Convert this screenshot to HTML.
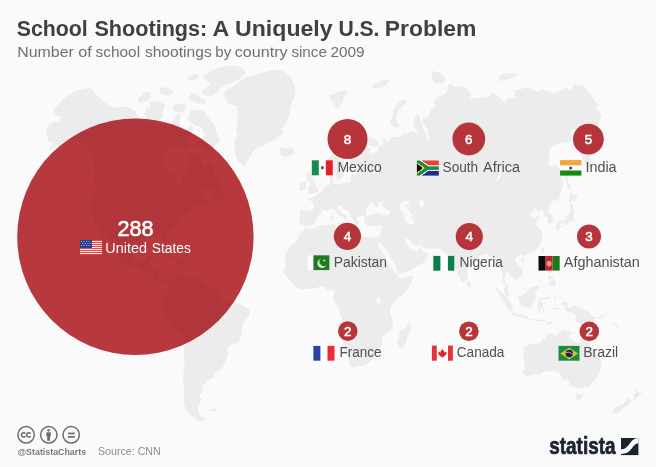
<!DOCTYPE html>
<html><head><meta charset="utf-8"><title>School Shootings: A Uniquely U.S. Problem</title>
<style>
html,body{margin:0;padding:0;background:#fafafa;}
body{width:656px;height:467px;overflow:hidden;font-family:"Liberation Sans",sans-serif;}
svg{display:block;will-change:transform;opacity:.999}
text{font-family:"Liberation Sans",sans-serif;}
.lbl{font-size:14px;fill:#505050}
.num{font-size:13.4px;font-weight:normal;fill:#fff;stroke:#fff;stroke-width:.55px;text-anchor:middle}
</style></head>
<body>
<svg width="656" height="467" viewBox="0 0 656 467">
<rect width="656" height="467" fill="#fafafa"/>
<!--MAP-->
<defs><filter id="soft" x="-2%" y="-2%" width="104%" height="104%"><feGaussianBlur stdDeviation=".45"/></filter></defs>
<g id="map" fill="#ececec" filter="url(#soft)"><path id="land" d="M53.8 109.0L66.5 96.2L78.7 89.7L90.2 87.8L96.6 95.1L101.6 99.5L106.7 103.7L114.7 107.8L127.8 106.5L135.3 111.2L141.5 121.5L152.2 124.0L161.0 126.8L169.9 125.7L176.3 115.7L180.9 113.0L179.3 123.2L180.5 127.8L183.5 132.4L189.7 125.2L193.7 127.2L191.2 135.8L182.8 138.3L178.4 145.2L173.4 145.1L166.2 150.6L161.2 157.0L162.0 162.1L165.5 167.5L172.4 173.6L177.3 175.0L175.6 181.3L177.9 185.8L180.2 184.0L182.0 176.9L187.0 171.4L188.8 165.3L188.5 160.5L191.9 152.4L198.2 153.9L202.6 158.8L201.7 165.1L203.6 167.4L209.0 163.3L211.0 161.9L213.1 170.7L213.7 175.2L217.9 179.8L220.8 184.2L219.8 187.6L215.2 189.2L212.1 191.2L205.2 190.5L200.8 190.5L195.5 194.7L191.1 198.9L196.5 194.2L202.9 193.3L203.8 195.2L201.1 197.6L202.3 201.0L207.5 201.8L210.5 200.2L208.1 203.6L202.4 205.3L198.4 207.6L198.9 204.9L202.0 202.8L197.3 203.8L193.3 206.1L190.3 207.7L190.5 211.4L187.6 212.2L182.8 214.0L181.9 216.6L179.0 220.0L177.7 222.3L177.0 226.5L173.9 228.6L170.8 230.6L166.5 234.5L165.5 237.8L166.7 243.3L166.4 247.6L164.4 248.3L162.2 243.3L162.5 239.5L160.5 237.7L157.6 238.1L154.1 236.9L150.7 237.0L150.0 239.2L147.2 238.9L142.1 237.9L139.7 238.9L135.2 241.9L134.3 247.0L132.6 253.5L133.3 257.7L135.3 260.9L137.9 262.6L142.7 261.8L145.4 260.0L146.4 256.8L150.8 255.9L153.0 256.5L151.1 261.1L149.9 267.2L153.6 267.6L157.4 267.7L158.8 269.7L157.8 274.3L157.4 277.2L159.6 280.2L162.4 281.6L165.3 280.2L169.0 282.0L168.0 284.7L164.6 282.2L163.2 284.5L160.4 282.7L157.6 282.1L154.8 279.6L153.4 277.2L150.4 273.2L146.7 272.2L143.0 271.2L139.4 267.5L136.6 267.1L132.8 267.3L128.2 265.6L123.7 262.8L120.1 260.7L117.4 257.5L118.3 253.2L115.8 249.2L112.4 245.8L110.2 241.9L107.3 238.4L106.8 233.7L103.9 231.9L103.6 235.9L105.7 240.6L107.8 245.2L109.1 249.3L110.7 251.7L109.3 250.8L106.7 246.3L103.6 241.7L102.4 237.5L101.1 233.9L99.8 229.8L97.9 226.0L94.3 224.3L93.1 219.2L92.5 216.0L91.2 211.4L90.9 208.7L92.2 204.6L92.4 201.9L96.0 192.6L96.6 186.4L99.5 187.3L100.6 185.0L98.6 181.6L94.3 177.9L95.1 173.0L93.6 165.9L93.8 162.4L92.4 154.8L91.1 149.5L87.8 148.9L85.8 144.5L82.8 142.1L78.6 141.2L76.9 137.4L71.6 140.5L71.6 135.3L64.8 141.1L59.8 145.5L55.2 147.5L50.2 150.1L48.0 149.7L52.2 144.7L54.8 141.9L51.2 142.3L47.1 140.1L49.1 135.6L45.8 134.8L46.3 128.8L50.5 123.2L55.2 121.5L59.2 121.2L62.1 116.4L58.7 115.9L54.5 113.6L53.8 109.0Z M224.4 91.5L234.3 85.2L246.0 77.3L252.9 75.6L259.7 73.6L264.8 72.1L269.9 70.6L276.1 70.1L282.1 69.6L286.0 73.2L290.2 76.7L294.5 84.5L295.7 93.0L292.0 102.7L289.8 109.3L289.6 115.5L286.1 121.2L284.6 126.6L281.5 128.4L283.5 133.2L279.1 136.0L274.7 140.1L269.2 141.6L263.9 145.8L258.1 147.8L253.7 150.2L251.1 155.6L247.3 161.1L245.2 165.6L242.1 164.7L238.5 162.0L236.5 157.1L234.9 152.0L234.8 145.8L234.3 139.7L237.7 134.4L235.8 130.3L237.5 124.4L237.7 118.4L237.7 111.0L236.3 105.4L228.3 103.9L225.3 99.5L224.3 95.7L224.4 91.5Z M203.8 111.2L206.9 115.3L210.5 120.4L214.6 124.7L215.5 130.6L218.0 136.4L220.4 140.6L216.1 144.8L211.3 150.8L207.8 152.3L204.2 151.5L201.6 147.3L194.6 145.4L195.7 142.1L201.6 140.5L204.7 133.8L200.7 126.7L195.3 125.4L190.6 122.5L187.0 118.8L190.7 111.2L198.2 109.5L203.8 111.2Z M149.1 101.5L155.7 101.3L162.2 103.2L165.2 105.6L162.1 112.3L163.5 117.6L159.1 120.1L153.2 119.1L146.4 118.2L144.0 114.8L145.5 109.7L150.5 107.1L149.1 101.5Z M143.5 91.9L148.9 91.9L151.7 96.0L147.2 101.2L142.0 103.6L138.4 102.5L137.6 98.7L142.7 94.4Z M214.0 69.4L222.0 66.7L232.2 65.2L236.7 66.2L241.1 67.1L246.0 72.3L242.2 77.5L234.5 81.4L226.6 84.9L220.7 87.7L216.1 92.5L210.7 96.5L203.1 94.6L201.2 92.1L207.2 86.6L210.8 83.9L208.2 80.9L203.9 79.6L203.5 75.4L210.2 71.4L214.0 69.4Z M191.6 92.5L196.1 94.2L200.9 98.4L206.2 100.8L205.1 104.1L200.2 104.1L191.8 101.3L188.2 97.9Z M161.2 87.3L168.0 87.8L173.5 90.9L171.3 95.0L166.5 95.3L161.4 94.1L159.2 89.9Z M174.7 103.1L180.1 103.7L185.1 105.0L186.4 108.3L182.6 111.7L179.3 111.7L176.5 112.2L173.6 110.3L172.7 106.4Z M190.3 75.7L196.4 74.1L199.5 76.2L194.5 80.8L187.9 80.6L187.8 77.5Z M181.0 140.5L185.2 138.9L188.5 143.2L187.9 146.9L183.2 148.1L179.7 146.0Z M212.2 197.7L215.3 193.2L218.4 188.1L220.6 188.2L219.4 192.1L222.8 193.6L223.7 197.5L222.9 200.8L220.3 199.9L217.7 200.0L215.3 198.1L212.2 197.7Z M156.8 255.1L160.6 252.9L165.3 252.7L171.6 255.7L176.4 258.9L170.3 259.4L169.5 257.8L165.9 255.7L162.3 254.3L159.5 254.5Z M176.1 259.7L180.7 259.5L184.4 259.8L187.3 262.2L183.3 263.0L180.9 263.8L175.9 262.5Z M168.6 262.3L172.3 262.9L171.3 263.7L168.7 263.3Z M169.0 282.0L171.9 280.2L172.9 277.9L175.8 276.9L179.1 275.7L180.7 274.6L180.4 277.3L183.4 276.3L186.6 278.1L190.9 278.1L194.7 278.7L198.5 278.1L200.4 279.7L202.2 282.2L205.0 285.1L207.8 287.0L211.6 287.2L215.4 288.0L218.2 290.1L220.0 294.7L221.0 297.5L220.0 299.5L223.8 300.4L226.7 300.0L231.4 303.3L236.2 303.8L240.0 304.0L243.8 306.1L246.7 308.0L249.2 309.0L249.8 312.8L249.1 316.6L245.9 319.5L243.2 323.4L242.4 327.3L242.2 332.6L240.5 337.6L239.2 341.2L236.5 343.3L232.8 343.9L229.2 345.8L227.0 349.1L228.3 353.6L226.8 358.5L224.5 363.5L222.2 367.9L219.4 370.7L216.2 371.6L214.7 373.9L214.3 377.1L210.5 379.6L206.5 380.7L205.6 383.8L201.6 384.4L203.5 387.5L201.8 390.0L201.8 393.5L198.7 396.1L201.6 399.1L199.6 403.4L197.8 407.5L198.6 412.4L199.5 414.3L204.4 418.8L205.8 419.5L202.4 421.2L197.9 420.7L193.7 417.6L188.2 413.2L184.9 407.0L183.5 400.4L183.9 393.9L184.7 388.8L183.3 384.0L183.0 379.2L183.2 374.5L184.3 369.8L184.5 364.2L183.8 358.7L184.1 353.3L184.4 348.0L184.3 339.7L183.7 334.4L180.3 331.6L176.3 329.6L171.9 325.6L169.8 321.7L167.2 316.8L164.5 311.9L161.8 309.0L161.6 306.7L164.0 304.8L162.3 302.7L163.0 299.5L163.9 297.0L166.2 295.6L167.8 293.5L169.1 290.9L169.0 287.0L169.0 282.0Z M195.4 413.8L198.8 413.2L199.7 415.7L205.8 418.6L203.9 420.2L199.7 420.9L194.7 418.4L195.9 416.0Z M211.0 408.8L216.2 408.5L216.6 410.9L211.5 411.2Z M305.3 227.5L308.7 228.8L312.4 229.0L316.0 227.5L318.7 226.0L323.3 225.1L328.7 224.9L333.8 224.2L336.0 225.3L335.1 228.1L336.1 230.9L334.3 232.0L337.1 233.0L339.8 233.7L344.1 235.1L347.3 237.6L351.0 239.1L352.8 237.6L352.7 234.2L356.3 233.6L359.2 235.0L362.3 236.3L366.6 237.1L370.3 237.7L373.0 236.4L375.5 237.0L379.0 236.7L380.5 240.5L378.6 243.6L378.1 244.1L376.2 239.7L376.5 242.2L378.6 246.1L380.8 249.8L382.5 252.8L384.7 255.8L385.8 258.4L386.1 262.2L388.5 264.8L390.2 268.7L392.5 270.1L395.4 272.6L397.7 274.5L397.4 276.3L400.3 278.4L404.1 277.8L407.8 277.0L412.9 275.7L412.6 278.4L411.4 282.2L409.0 287.1L406.2 290.9L403.4 293.9L399.6 296.6L396.8 299.8L394.5 302.3L392.4 304.2L390.5 308.0L389.7 310.9L391.0 312.8L390.5 315.7L392.7 318.6L392.8 323.4L392.8 327.3L390.4 330.7L386.6 332.6L384.6 334.8L381.7 337.2L382.1 340.8L382.3 344.8L380.3 346.8L377.2 348.8L376.8 352.3L375.2 355.4L372.2 359.6L368.3 363.3L364.5 365.4L360.8 366.1L356.2 366.0L352.5 367.5L349.8 366.4L349.4 363.2L349.5 360.4L347.4 356.2L346.0 353.8L343.9 350.1L343.1 345.0L343.0 341.0L340.8 337.0L338.6 333.1L338.2 329.2L339.6 325.3L341.7 322.0L342.1 318.5L340.7 314.7L339.2 309.9L338.4 307.1L336.0 304.2L333.5 301.4L333.1 297.5L334.2 294.3L334.6 291.8L332.7 289.9L329.3 290.1L326.4 289.8L324.5 286.7L320.7 286.5L317.9 287.5L314.1 288.6L310.3 289.0L306.5 288.8L301.8 290.1L298.9 288.6L295.5 286.1L292.3 283.6L290.8 281.0L288.0 277.9L285.7 276.0L284.2 273.6L283.0 270.3L284.9 267.8L285.3 264.9L285.8 261.0L284.1 258.0L285.7 255.0L287.1 251.0L289.0 247.6L291.9 244.5L295.3 242.2L297.5 240.2L298.0 237.1L299.9 233.5L303.2 231.4L305.3 227.5Z M409.3 321.7L410.9 325.4L410.9 329.0L409.3 331.7L408.1 336.3L406.3 341.3L404.6 346.4L402.6 348.0L400.2 348.6L398.0 347.0L397.2 342.3L398.1 339.2L399.4 336.3L399.0 332.3L400.5 329.7L403.4 328.7L406.3 326.4L407.7 323.9L409.3 321.7Z M299.7 224.9L298.9 220.9L300.2 217.1L300.3 213.7L299.7 211.0L302.7 209.8L308.0 210.5L312.8 210.6L313.9 207.3L313.9 204.5L311.6 201.3L308.0 199.6L308.2 198.2L311.7 197.9L313.2 197.9L313.2 195.7L316.0 196.0L318.8 194.0L320.3 192.0L322.8 189.9L324.2 187.1L327.0 185.7L330.0 184.9L330.6 182.3L329.6 177.7L331.7 175.7L333.3 174.3L333.2 178.2L332.4 180.9L334.2 183.8L337.1 183.5L340.0 184.3L343.8 182.9L347.1 182.3L349.7 182.7L351.2 180.0L350.8 175.9L352.4 174.2L355.8 174.9L356.1 171.8L354.4 169.5L357.6 168.2L361.7 168.4L364.4 166.8L360.5 165.4L356.6 166.5L353.0 167.2L350.4 164.9L350.2 159.7L351.5 156.6L354.7 152.2L355.2 150.2L352.3 149.0L350.0 149.8L349.3 153.4L346.8 156.7L343.9 160.6L343.8 165.1L346.5 167.4L345.5 170.3L343.6 173.8L343.0 177.5L340.2 178.9L339.8 180.5L337.6 180.6L337.0 178.4L335.5 174.8L334.3 171.1L333.1 169.1L331.6 171.2L329.2 173.2L326.7 172.9L325.0 170.7L324.2 166.3L324.0 162.4L325.9 160.0L328.6 157.5L331.7 155.5L333.9 152.3L335.7 148.2L337.9 143.7L339.2 140.9L342.0 137.6L344.6 134.5L348.2 133.2L350.8 131.1L353.6 129.8L357.4 130.8L361.3 132.4L360.2 134.8L364.9 135.6L369.6 136.7L374.6 139.3L378.3 142.2L378.9 145.0L375.3 147.0L369.6 145.3L366.5 145.2L369.6 148.4L370.4 152.4L374.2 154.1L375.3 151.4L378.5 151.5L377.8 147.5L380.5 145.2L383.6 145.3L383.0 141.1L382.0 137.9L385.2 138.4L387.0 142.9L388.8 140.2L392.6 136.9L396.9 136.8L398.1 137.0L401.4 135.1L404.2 134.0L406.1 131.0L406.7 134.5L411.3 131.5L415.5 132.5L419.1 133.6L416.1 129.6L413.3 124.7L413.5 118.2L416.1 115.3L419.0 115.7L421.4 122.5L424.0 130.4L426.8 136.0L426.1 140.3L429.6 138.6L427.6 133.9L427.8 129.8L423.6 124.3L422.3 117.1L425.1 118.3L428.0 116.0L430.3 114.3L428.9 109.9L432.6 108.1L436.4 106.4L433.4 102.3L435.5 99.3L439.5 95.7L444.8 94.3L447.2 90.8L448.7 83.3L452.2 84.6L455.6 87.0L461.4 86.3L467.1 88.5L471.6 95.9L468.0 99.1L472.0 98.9L474.8 98.1L482.2 97.8L489.1 96.7L492.3 93.0L500.6 98.3L504.9 103.6L506.4 99.2L510.7 97.8L514.9 97.5L514.4 90.8L518.5 89.3L523.4 88.6L528.2 86.8L536.5 91.7L542.2 89.5L551.5 92.2L552.9 94.1L558.4 91.5L563.4 89.6L565.8 86.7L571.0 91.0L573.7 84.8L579.5 85.0L584.4 86.3L598.2 105.1L597.3 106.6L595.6 108.3L600.7 113.8L601.7 117.7L599.1 121.1L597.6 126.6L596.4 131.7L591.7 131.1L589.3 133.6L587.3 135.0L588.0 140.7L587.4 144.3L591.7 149.3L592.3 154.5L590.4 157.7L591.8 161.7L589.8 163.6L590.4 167.2L589.2 170.4L585.8 165.4L582.5 158.4L578.4 150.0L578.5 145.8L580.4 143.3L580.2 135.8L580.8 133.4L581.0 127.2L580.1 124.1L577.7 126.2L575.6 129.1L572.1 129.6L571.0 132.6L571.8 140.1L568.1 143.0L563.8 141.9L557.6 144.1L551.9 145.7L549.8 151.0L549.1 157.6L547.8 163.4L551.4 166.4L555.8 164.9L559.5 167.9L560.6 174.7L563.5 182.7L562.1 186.7L561.5 190.8L560.2 195.5L558.9 199.2L555.3 201.0L552.2 200.2L551.1 202.8L550.0 205.8L548.2 209.5L547.7 211.4L550.2 214.0L552.7 217.3L553.4 221.1L551.3 222.8L548.8 224.2L547.8 221.5L547.7 217.6L544.6 215.7L543.5 213.1L543.5 210.9L541.5 210.3L538.2 212.1L536.9 213.0L536.5 209.0L534.8 208.3L532.7 211.2L530.3 212.9L530.4 215.0L533.3 217.7L536.3 216.2L539.8 217.3L537.5 219.8L535.4 222.9L536.9 225.9L539.3 228.7L541.3 231.1L542.2 234.2L541.9 237.8L541.9 240.1L540.0 243.7L539.1 246.4L536.9 248.7L534.5 251.7L530.9 252.9L528.2 254.0L524.5 255.4L522.9 257.8L521.7 255.2L518.8 255.1L516.8 257.0L515.2 259.6L515.7 261.7L518.5 265.2L521.6 267.9L522.8 272.0L522.8 275.0L520.7 277.1L518.3 278.3L516.1 281.1L514.8 281.7L515.1 279.1L513.1 278.1L510.8 276.1L509.1 274.1L506.9 272.3L505.2 272.5L505.4 275.1L504.2 278.1L504.3 280.7L506.3 283.1L507.4 285.0L509.3 285.8L507.4 287.6L508.4 290.1L508.6 293.5L509.8 296.4L508.7 296.6L506.2 294.5L504.6 292.1L503.6 289.0L506.3 286.2L503.9 283.1L502.5 281.5L502.9 278.1L502.9 275.1L501.7 271.5L500.6 268.1L499.4 265.4L497.1 265.4L496.0 267.5L494.0 267.1L494.2 264.0L493.0 260.9L490.9 258.9L488.7 255.8L486.9 253.5L484.8 254.3L482.0 255.2L479.3 256.3L479.1 258.4L476.8 259.5L474.2 262.6L471.2 265.9L468.5 267.7L467.3 269.3L467.7 272.3L467.5 275.3L467.2 278.6L465.8 280.6L464.3 281.4L463.0 282.9L461.1 281.2L460.0 278.3L457.9 274.3L456.8 270.4L455.1 267.4L453.5 263.4L452.9 260.3L452.4 257.3L451.1 257.3L448.9 257.7L445.7 255.3L447.0 253.2L444.1 252.6L442.1 251.2L440.6 249.1L437.2 248.5L432.6 248.8L427.9 248.7L424.1 248.1L422.4 246.7L421.0 245.0L418.3 245.9L415.5 245.7L412.5 243.9L410.0 241.2L408.3 238.6L406.1 238.5L404.7 239.5L405.9 242.3L407.9 244.8L409.4 246.4L409.5 248.5L410.7 249.9L411.3 247.4L412.1 247.8L412.1 250.5L414.0 251.1L417.2 251.1L419.4 248.6L420.6 246.9L421.2 249.8L422.9 251.8L425.7 252.2L428.0 254.5L427.2 256.9L425.8 258.7L424.5 261.6L422.4 263.6L420.0 264.6L416.9 266.2L414.5 267.6L412.3 269.0L408.6 271.0L405.8 272.2L401.1 273.9L398.3 274.1L397.7 272.6L396.6 269.7L396.3 266.7L394.7 263.8L392.7 260.8L390.1 257.8L389.0 254.8L387.5 251.8L385.3 249.1L383.9 247.1L381.9 244.6L380.8 243.2L380.3 240.7L379.0 236.7L379.9 234.2L380.4 231.4L381.3 228.7L381.5 226.5L381.7 224.8L379.6 225.0L376.9 226.4L374.2 226.0L371.4 226.0L368.7 225.9L366.8 225.2L365.5 224.1L363.9 221.3L364.3 219.3L363.1 217.9L365.4 217.0L368.0 215.6L370.3 215.1L372.4 215.0L375.5 213.1L378.5 213.1L381.4 214.6L384.1 215.2L387.4 215.2L390.3 213.9L390.0 211.1L387.1 209.3L384.2 207.5L381.6 205.2L382.9 203.5L384.6 200.5L381.8 201.5L378.3 202.4L377.7 204.6L380.4 205.2L377.9 206.5L375.7 207.5L373.6 204.4L371.3 202.6L369.6 203.3L368.4 205.8L366.9 208.6L365.9 211.5L366.0 213.3L367.0 214.9L364.4 215.6L363.0 216.3L360.8 216.2L358.7 216.4L357.3 217.6L356.9 219.1L358.0 220.9L359.4 222.5L358.0 224.0L357.4 225.8L355.4 225.1L354.4 223.0L353.9 220.3L351.6 218.1L350.9 214.7L349.9 213.1L347.1 211.3L344.0 209.5L342.1 206.7L340.3 205.3L337.9 206.0L337.9 208.4L340.1 210.2L341.3 213.0L344.6 213.9L346.4 215.9L349.2 217.7L346.9 217.2L345.9 219.0L346.8 220.6L344.9 222.6L344.4 222.2L345.2 219.7L343.5 217.9L341.6 216.6L339.3 215.5L337.0 213.2L334.7 211.4L333.7 209.1L331.6 208.2L329.5 209.6L327.6 211.2L324.9 210.5L322.7 210.3L321.5 212.6L321.7 214.2L319.6 215.4L317.4 216.5L315.6 219.0L316.0 221.0L314.9 222.7L312.7 224.9L310.6 225.6L307.8 225.8L306.2 226.9L304.6 225.6L302.8 224.5L299.7 224.9Z M306.3 194.4L310.0 193.7L314.3 193.0L318.2 191.7L317.4 190.7L318.9 188.1L316.5 187.1L316.2 185.5L315.5 183.4L313.5 181.3L312.7 179.1L310.7 178.8L311.8 177.4L312.7 174.7L309.7 174.4L310.9 171.8L307.8 171.8L306.4 174.6L306.7 177.7L306.8 180.4L307.9 182.0L310.3 182.1L310.9 185.0L310.7 186.0L308.4 186.3L308.8 188.1L308.0 189.4L307.1 190.2L309.2 190.7L310.9 191.2L308.8 191.7L306.3 194.4Z M298.9 190.3L302.3 190.4L305.3 188.9L305.7 186.3L305.9 183.9L306.6 182.6L305.1 181.2L303.4 180.9L301.7 182.8L299.1 183.8L300.4 186.5L299.3 188.8L298.9 190.3Z M278.4 149.6L281.5 147.1L284.7 149.2L288.4 148.0L291.5 147.1L293.5 149.8L294.9 152.2L292.8 154.4L290.1 155.6L286.3 157.1L283.0 155.7L280.5 155.3L281.6 153.4L278.6 152.0L281.4 150.8L278.4 149.6Z M329.1 95.4L332.8 94.2L335.7 93.0L339.7 91.1L344.4 90.8L348.2 92.1L345.9 95.9L342.7 99.2L343.2 102.5L339.8 105.9L337.9 108.7L335.4 106.6L333.5 103.0L330.2 99.3L329.1 95.4Z M389.8 123.7L390.8 119.7L393.0 115.4L393.3 110.3L396.7 104.3L400.8 100.7L404.9 98.9L406.4 102.0L402.4 106.0L398.7 109.4L397.7 114.3L396.2 118.2L397.0 122.8L399.7 126.6L397.0 127.8L393.7 127.0L389.8 123.7Z M371.2 86.4L376.2 83.2L382.3 80.1L389.7 79.7L386.9 84.6L380.5 87.7L374.5 88.7Z M431.9 79.4L431.5 70.8L440.6 73.1L446.6 79.0L442.3 83.6L435.9 83.2Z M497.5 77.2L503.0 73.5L512.1 73.7L519.0 73.4L513.9 77.6L505.6 80.3L500.9 81.0Z M568.7 190.0L570.6 187.3L567.6 182.1L567.3 178.8L570.1 180.1L565.5 174.0L564.0 169.0L560.3 163.1L560.0 166.1L561.6 171.1L564.2 175.9L566.2 182.3L568.7 190.0Z M569.0 203.3L568.4 199.2L570.2 197.5L568.9 191.6L572.0 194.3L576.3 194.8L577.6 197.4L575.2 198.8L574.7 201.6L571.5 200.1L570.7 202.5L569.0 203.3Z M557.2 224.8L558.6 221.6L561.1 220.4L564.8 219.9L566.3 216.9L567.4 214.9L569.6 214.0L570.7 211.1L570.2 207.8L569.9 204.3L572.0 203.9L574.1 208.0L574.1 211.9L573.8 214.5L574.4 218.5L574.3 220.7L573.2 221.5L570.9 222.2L568.2 222.6L568.0 223.4L566.6 225.6L564.5 222.8L561.8 223.5L559.8 224.7L562.0 226.3L564.0 225.2L563.9 226.5L561.7 227.6L560.2 225.9L559.5 227.7L559.2 231.2L558.0 231.8L556.7 229.1L555.1 226.7L557.2 224.8Z M543.3 246.5L544.4 248.1L543.1 253.7L541.3 251.5L542.0 248.2Z M520.7 259.9L523.9 258.2L525.0 259.2L523.3 261.8L520.8 261.4Z M543.3 261.3L546.4 261.5L546.9 264.5L545.7 266.6L546.4 270.4L549.7 271.2L550.8 273.6L548.8 271.8L546.5 271.2L544.1 270.4L543.5 268.9L542.5 266.2L543.2 263.5Z M547.1 275.3L549.7 275.9L552.9 276.5L553.9 273.8L553.4 278.5L551.2 278.9L549.3 280.5L548.3 277.9Z M547.6 284.9L550.3 281.7L553.6 279.3L555.6 281.3L556.2 284.5L554.9 286.5L550.0 287.6L551.9 286.5L551.0 283.5L548.0 285.1Z M538.4 282.2L542.5 277.8L542.8 276.3L540.8 280.4L538.6 282.6Z M518.3 296.2L520.7 296.1L522.5 294.4L525.5 293.0L528.1 290.2L530.4 288.0L537.8 285.0L539.7 286.5L537.8 288.7L535.9 290.7L535.1 293.5L535.6 297.9L534.6 300.0L532.6 303.4L531.9 307.4L529.5 308.9L526.5 307.4L523.3 307.2L520.6 305.7L520.1 302.9L518.7 300.6L518.3 296.2Z M495.4 287.8L498.1 288.6L500.6 291.4L503.5 294.1L505.9 295.5L508.3 298.6L509.5 302.0L512.5 305.3L512.8 307.9L512.4 311.7L510.1 311.6L507.8 309.3L505.4 305.7L503.9 302.2L501.8 298.6L500.7 295.4L498.7 293.0L496.6 290.4L495.4 287.8Z M511.2 313.8L514.2 312.3L517.2 314.0L521.4 313.9L525.0 315.1L528.3 317.1L528.2 319.4L524.3 318.4L519.8 317.5L516.2 316.3L513.5 315.2L511.2 313.8Z M530.2 318.4L534.2 319.0L538.2 319.5L542.2 320.1L545.2 319.9L545.2 321.1L540.1 321.6L536.2 320.8L531.2 320.1Z M546.0 324.7L549.2 321.9L553.6 320.8L552.1 322.9L548.0 324.7Z M539.2 298.4L541.2 297.4L544.6 298.1L548.6 297.1L550.0 296.9L548.2 299.5L544.6 299.2L540.6 299.5L540.0 302.3L542.6 302.6L546.2 302.2L543.6 304.5L542.5 306.1L544.1 308.5L545.3 311.0L543.1 311.5L541.5 307.2L540.3 306.7L540.3 310.7L540.4 313.2L538.4 312.9L538.5 308.2L537.1 306.3L538.2 302.4L539.2 298.4Z M554.6 296.1L556.6 297.2L556.0 300.6L555.2 302.5L554.6 298.8Z M551.5 308.2L555.5 307.4L560.5 308.6L558.5 309.5L553.5 309.2Z M561.6 302.7L564.6 301.8L567.6 302.9L568.2 307.2L569.5 309.3L572.6 306.7L575.2 305.0L578.6 306.9L581.6 308.1L585.5 310.4L588.5 311.6L591.5 315.0L594.4 317.8L594.9 320.5L593.7 321.8L596.1 326.0L599.4 330.1L597.0 329.9L594.0 328.5L591.2 325.0L588.3 321.9L586.2 323.8L584.1 325.5L581.1 324.9L578.2 322.4L575.8 322.4L575.3 319.1L577.0 317.9L575.4 315.3L572.5 313.1L570.5 312.4L566.5 310.9L565.1 310.1L564.1 307.8L566.6 306.7L563.6 305.8L561.6 302.7Z M596.4 316.9L600.4 316.9L603.5 313.8L604.1 315.8L601.4 318.9L597.4 318.6Z M467.7 279.6L470.0 282.2L471.3 284.5L470.7 286.4L468.9 287.2L467.7 286.0L467.4 283.1L467.7 279.6Z M523.4 346.6L525.4 346.4L528.2 344.6L530.9 344.3L533.3 344.1L535.4 343.7L538.4 343.3L540.6 342.1L542.4 340.3L542.4 338.7L544.9 339.1L545.6 337.0L547.3 335.8L548.8 334.0L551.5 333.3L553.5 333.9L554.7 335.6L557.4 335.6L558.2 333.0L560.3 331.3L561.8 330.9L564.1 329.2L565.8 330.4L568.8 331.6L572.4 332.0L571.6 334.0L570.3 334.7L569.3 336.9L571.7 339.1L574.0 340.9L576.2 342.7L578.8 343.2L580.0 341.1L581.5 338.3L581.8 335.5L582.3 333.7L583.3 330.1L584.2 329.4L585.2 333.0L585.8 337.4L587.4 337.4L588.9 339.1L589.5 342.7L589.9 346.7L592.3 348.4L594.6 350.3L595.5 353.9L597.9 355.8L598.9 358.5L601.0 361.5L601.1 365.4L601.0 368.8L599.1 373.3L597.3 376.7L594.5 380.1L592.0 382.7L589.5 385.5L588.6 386.7L584.8 387.0L580.7 388.7L578.7 387.2L575.4 387.8L572.8 386.7L570.1 385.8L569.2 383.9L569.6 381.7L567.4 381.0L567.4 379.1L567.6 375.8L566.4 379.0L564.0 380.2L562.9 379.2L561.7 378.0L560.8 375.1L558.8 372.7L556.2 371.0L552.2 370.8L549.1 371.5L545.0 371.7L541.7 373.1L539.3 375.0L535.4 374.3L531.3 375.0L528.0 376.0L525.0 375.8L522.7 374.1L522.8 372.3L524.7 370.1L524.9 366.6L524.3 363.1L523.6 359.2L522.7 355.8L523.6 353.7L523.2 351.3L524.3 348.8L523.4 346.6Z M576.3 392.6L579.5 393.9L582.9 393.7L582.2 396.5L580.2 399.5L577.3 400.3L576.1 398.0L576.4 395.4L576.3 392.6Z M634.7 386.9L636.2 388.3L636.9 389.8L638.4 390.8L638.6 392.2L640.5 392.9L642.9 392.9L640.9 394.7L639.0 395.3L638.0 397.5L635.4 399.9L633.5 400.8L633.0 399.7L634.7 397.2L634.1 395.5L633.0 394.6L635.0 393.7L636.2 392.2L636.0 390.7L635.0 388.4L634.7 386.9Z M629.8 397.4L630.1 399.3L631.7 400.9L629.1 403.6L626.8 405.9L623.7 407.2L622.4 409.1L620.2 411.5L617.4 413.5L615.0 413.2L612.6 411.2L614.3 408.7L617.9 406.3L621.5 404.4L624.6 402.5L626.6 400.3L628.3 398.3L629.8 397.4Z M624.5 353.2L628.8 357.0L629.6 358.4L626.9 356.6Z M651.0 350.7L653.6 351.1L653.1 352.3L651.0 351.8Z M612.2 321.3L617.0 325.0L620.7 330.5L618.8 329.4L614.1 324.2Z M22.1 256.3L24.2 258.0L22.5 259.3L21.7 257.5Z M56.5 148.6L61.1 147.5L61.7 145.5L59.3 146.7Z M92.7 178.3L97.1 180.5L98.9 186.3L96.4 185.4L93.9 181.7Z M88.4 166.5L90.6 167.2L89.5 173.2L88.2 170.3Z M374.9 228.8L378.8 227.5L378.0 229.0L375.9 229.7Z M358.8 227.9L363.9 228.3L363.4 229.0L358.8 228.6Z M338.4 222.7L344.2 222.2L343.6 225.5L338.6 223.5Z M330.7 216.0L333.4 215.5L333.3 220.0L331.3 220.7Z M331.3 212.6L332.9 211.4L333.0 214.9L331.7 214.9Z M416.8 274.3L419.1 274.5L417.8 274.9Z"/><path id="lakes" fill="#f9f9f9" d="M399.1 205.4L403.0 201.5L406.4 200.6L409.2 201.3L409.7 204.2L406.6 205.1L405.6 206.8L409.7 211.0L410.6 213.3L413.0 214.9L411.6 218.0L413.8 221.3L413.7 223.6L410.5 224.2L407.7 223.3L404.8 222.5L404.5 219.3L405.0 215.8L402.7 212.4L400.6 210.1L399.1 205.4Z M418.5 200.6L423.3 200.4L425.0 204.8L421.9 207.9L419.4 205.8Z M495.4 181.0L498.3 180.4L501.1 175.1L502.0 167.2L500.5 168.1L499.7 173.7L496.9 178.7Z M376.4 297.9L380.6 297.9L380.6 303.3L376.8 303.3Z M153.7 196.4L159.8 193.5L165.0 194.5L166.9 198.1L162.4 197.8L157.1 197.2Z M158.4 209.3L161.1 209.4L163.3 201.8L166.5 199.9L169.9 201.0L173.9 203.0L170.6 206.1L168.6 207.0L167.2 204.7L168.1 200.8L165.6 199.9L161.8 200.4L159.5 204.2Z M166.4 210.4L172.8 208.8L175.0 206.9L179.9 206.7L180.2 205.4L174.3 205.6L174.7 208.1L169.9 209.4L166.6 209.5Z M147.0 176.4L150.4 175.8L148.8 185.5L147.6 185.4Z M125.4 147.5L133.2 143.9L140.5 143.3L135.7 146.3L129.5 148.3Z M122.5 129.6L131.5 124.2L134.1 127.5L128.4 131.9L124.4 131.0Z"/></g>
<!--BIG CIRCLE-->
<clipPath id="bc"><circle cx="135.4" cy="236.7" r="118"/></clipPath>
<circle cx="135.4" cy="236.7" r="118.2" fill="#b7383d"/>
<g clip-path="url(#bc)"><use href="#land" fill="#000" opacity=".03"/></g>
<!--TITLE-->
<g id="title">
<text x="16.7" y="36" font-size="21.5" font-weight="bold" fill="#404040" textLength="71.1" lengthAdjust="spacingAndGlyphs">School</text>
<text x="94.4" y="36" font-size="21.5" font-weight="bold" fill="#404040" textLength="112.9" lengthAdjust="spacingAndGlyphs">Shootings:</text>
<text x="212.5" y="36" font-size="21.5" font-weight="bold" fill="#404040" textLength="16.8" lengthAdjust="spacingAndGlyphs">A</text>
<text x="235.1" y="36" font-size="21.5" font-weight="bold" fill="#404040" textLength="97.5" lengthAdjust="spacingAndGlyphs">Uniquely</text>
<text x="338.4" y="36" font-size="21.5" font-weight="bold" fill="#404040" textLength="41.1" lengthAdjust="spacingAndGlyphs">U.S.</text>
<text x="384.8" y="36" font-size="21.5" font-weight="bold" fill="#404040" textLength="91.6" lengthAdjust="spacingAndGlyphs">Problem</text>
</g>
<g id="sub">
<text x="17.3" y="57.4" font-size="14.2" fill="#707070" textLength="56.5" lengthAdjust="spacingAndGlyphs">Number</text>
<text x="78.2" y="57.4" font-size="14.2" fill="#707070" textLength="13.5" lengthAdjust="spacingAndGlyphs">of</text>
<text x="95.5" y="57.4" font-size="14.2" fill="#707070" textLength="44.6" lengthAdjust="spacingAndGlyphs">school</text>
<text x="144.9" y="57.4" font-size="14.2" fill="#707070" textLength="66.8" lengthAdjust="spacingAndGlyphs">shootings</text>
<text x="215.3" y="57.4" font-size="14.2" fill="#707070" textLength="16.0" lengthAdjust="spacingAndGlyphs">by</text>
<text x="234.8" y="57.4" font-size="14.2" fill="#707070" textLength="52.8" lengthAdjust="spacingAndGlyphs">country</text>
<text x="291.4" y="57.4" font-size="14.2" fill="#707070" textLength="35.5" lengthAdjust="spacingAndGlyphs">since</text>
<text x="330.4" y="57.4" font-size="14.2" fill="#707070" textLength="34.1" lengthAdjust="spacingAndGlyphs">2009</text>
</g>
<!--US-->
<text x="117.6" y="235.5" font-size="21.6" fill="#fff" stroke="#fff" stroke-width=".55" textLength="36" lengthAdjust="spacingAndGlyphs">288</text>
<text x="105.3" y="252.8" font-size="14" fill="#fff" textLength="41.6" lengthAdjust="spacingAndGlyphs">United</text><text x="151.8" y="252.8" font-size="14" fill="#fff" textLength="39" lengthAdjust="spacingAndGlyphs">States</text>
<!--SMALL CIRCLES-->
<g fill="#b6353b">
<circle cx="347.5" cy="139" r="20"/>
<circle cx="468.8" cy="139" r="16.4"/>
<circle cx="588.4" cy="139.2" r="15.4"/>
<circle cx="347.4" cy="236.3" r="13.6"/>
<circle cx="469.3" cy="236.5" r="13.6"/>
<circle cx="589" cy="236.6" r="12"/>
<circle cx="347.8" cy="331.1" r="9.8"/>
<circle cx="468.9" cy="331.2" r="9.8"/>
<circle cx="589.3" cy="331.4" r="9.8"/>
</g>
<g class="num">
<text x="347.5" y="143.9">8</text>
<text x="468.8" y="143.9">6</text>
<text x="588.4" y="144.1">5</text>
<text x="347.4" y="241.2">4</text>
<text x="469.3" y="241.3">4</text>
<text x="589" y="241.4">3</text>
<text x="347.8" y="335.9">2</text>
<text x="468.9" y="336.1">2</text>
<text x="589.3" y="336.2">2</text>
</g>
<!--LABELS-->
<g class="lbl">
<text x="337.4" y="171.6" textLength="44.4" lengthAdjust="spacingAndGlyphs">Mexico</text>
<text x="442.6" y="171.6" textLength="35.6" lengthAdjust="spacingAndGlyphs">South</text><text x="483" y="171.6" textLength="37" lengthAdjust="spacingAndGlyphs">Africa</text>
<text x="585.4" y="171.6" textLength="31.2" lengthAdjust="spacingAndGlyphs">India</text>
<text x="333.7" y="266.7" textLength="53.4" lengthAdjust="spacingAndGlyphs">Pakistan</text>
<text x="459.6" y="266.7" textLength="43.2" lengthAdjust="spacingAndGlyphs">Nigeria</text>
<text x="563.8" y="266.7" textLength="76" lengthAdjust="spacingAndGlyphs">Afghanistan</text>
<text x="339.5" y="357.3" textLength="42" lengthAdjust="spacingAndGlyphs">France</text>
<text x="456.8" y="357.3" textLength="47.6" lengthAdjust="spacingAndGlyphs">Canada</text>
<text x="583.2" y="357.3" textLength="35" lengthAdjust="spacingAndGlyphs">Brazil</text>
</g>
<!--FLAGS-->
<g id="flags">
<!-- US -->
<g transform="translate(80,240)" shape-rendering="crispEdges">
<rect width="22" height="15" fill="#fdeeee"/>
<g fill="#e2454a"><rect y="0" width="22" height="1"/><rect y="2" width="22" height="1"/><rect y="4" width="22" height="1"/><rect y="6" width="22" height="1"/><rect y="8" width="22" height="1"/><rect y="10" width="22" height="1"/><rect y="12" width="22" height="1"/><rect y="14" width="22" height="1"/></g>
<rect width="12" height="8" fill="#2b3f8f"/>
<g fill="#aab4dd" shape-rendering="auto"><rect x="1" y="1" width="1" height="1"/><rect x="3.5" y="1" width="1" height="1"/><rect x="6" y="1" width="1" height="1"/><rect x="8.5" y="1" width="1" height="1"/><rect x="2.2" y="3" width="1" height="1"/><rect x="4.8" y="3" width="1" height="1"/><rect x="7.4" y="3" width="1" height="1"/><rect x="10" y="3" width="1" height="1"/><rect x="1" y="5" width="1" height="1"/><rect x="3.5" y="5" width="1" height="1"/><rect x="6" y="5" width="1" height="1"/><rect x="8.5" y="5" width="1" height="1"/></g>
</g>
<!-- Mexico -->
<g transform="translate(311.8,160.3)">
<rect width="21" height="15" fill="#fff"/><rect width="7" height="15" fill="#1b8a4e"/><rect x="14" width="7" height="15" fill="#e3202d"/>
<ellipse cx="10.6" cy="7.4" rx="1.5" ry="1.7" fill="#6b5540"/>
</g>
<!-- South Africa -->
<g transform="translate(416.9,160.5)">
<svg width="21.9" height="15.1" viewBox="0 0 90 60" preserveAspectRatio="none">
<rect width="90" height="30" fill="#e4403d"/><rect y="30" width="90" height="30" fill="#1d2b8c"/>
<path d="M0 0 L45 30 L0 60 M45 30 H90" stroke="#fff" stroke-width="21" fill="none"/>
<path d="M0 0 L45 30 L0 60 M45 30 H90" stroke="#1a8c3d" stroke-width="13" fill="none"/>
<path d="M0 8 L0 52 L30 30Z" fill="#e8b73a"/>
<path d="M0 12.5 L0 47.5 L24 30Z" fill="#0d0d0d"/>
</svg>
</g>
<!-- India -->
<g transform="translate(560.1,160.1)">
<rect width="21.3" height="15.5" fill="#fff"/><rect width="21.3" height="5.2" fill="#f4a441"/><rect y="10.4" width="21.3" height="5.1" fill="#148a12"/>
<circle cx="10.6" cy="7.8" r="1.5" fill="#3b3f8f"/>
</g>
<!-- Pakistan -->
<g transform="translate(307.7,255.3)">
<rect width="21.7" height="14.8" fill="#fdfdfd"/><rect x="5.7" width="16" height="14.8" fill="#1f7a22"/>
<path d="M13.2 3.6 A4.6 4.6 0 1 0 18.6 9.6 A4 4 0 0 1 13.2 3.6Z" fill="#c9f2c9"/>
<circle cx="16.6" cy="5.2" r="1" fill="#c9f2c9"/>
</g>
<!-- Nigeria -->
<g transform="translate(433.3,255.9)">
<rect width="21" height="14.8" fill="#fff"/><rect width="7.1" height="14.8" fill="#107c4e"/><rect x="14.6" width="6.4" height="14.8" fill="#107c4e"/>
</g>
<!-- Afghanistan -->
<g transform="translate(538.5,256)">
<rect width="7.1" height="14.6" fill="#0c0c10"/><rect x="7.1" width="7" height="14.6" fill="#c5212a"/><rect x="14.1" width="7.1" height="14.6" fill="#1b7a1d"/>
<ellipse cx="10.6" cy="7.6" rx="2.5" ry="2.9" fill="#f3a3a3" opacity=".85"/>
</g>
<!-- France -->
<g transform="translate(313.4,345.9)">
<rect width="21.1" height="14.8" fill="#fff"/><rect width="7" height="14.8" fill="#2743a3"/><rect x="14.1" width="7" height="14.8" fill="#ec2b37"/>
</g>
<!-- Canada -->
<g transform="translate(431.9,345.6)">
<rect width="21" height="15.1" fill="#fff"/><rect width="4.9" height="15.1" fill="#e5333c"/><rect x="16.1" width="4.9" height="15.1" fill="#e5333c"/>
<path transform="translate(10.5,8) scale(.9) translate(-10.5,-7.9)" d="M10.5 2.6 L11.5 4.7 L12.6 4.2 L12.2 7 L13.7 5.6 L14 6.5 L15.3 6.3 L14.8 8.3 L15.3 8.7 L12.5 10.7 L12.8 11.6 L10.8 11.3 L10.8 13.2 L10.2 13.2 L10.2 11.3 L8.2 11.6 L8.5 10.7 L5.7 8.7 L6.2 8.3 L5.7 6.3 L7 6.5 L7.3 5.6 L8.8 7 L8.4 4.2 L9.5 4.7Z" fill="#e0242f"/>
</g>
<!-- Brazil -->
<g transform="translate(558.5,345.9)">
<rect width="21" height="14.8" fill="#1a8c3f"/>
<path d="M1.8 7.5 L10.6 1.8 L19.6 7.5 L10.6 13.5Z" fill="#dfc038"/>
<circle cx="10.8" cy="7.6" r="3.7" fill="#1a2350"/>
<path d="M7.3 6.6 Q10.8 5.2 14.3 8.2" stroke="#cdd3e8" stroke-width=".8" fill="none"/>
</g>
</g>
<!--FOOTER-->
<g fill="none" stroke="#6c6c6c" stroke-width="1.5">
<circle cx="26.1" cy="434.8" r="8.2"/><circle cx="48.8" cy="434.8" r="8.2"/><circle cx="71.2" cy="434.8" r="8.2"/>
</g>
<g fill="none" stroke="#6c6c6c" stroke-width="1.55">
<path d="M25.3 433.6 A2.15 2.15 0 1 0 25.3 436.2"/>
<path d="M30.5 433.6 A2.15 2.15 0 1 0 30.5 436.2"/>
</g>
<g fill="#6c6c6c">
<circle cx="48.6" cy="430.3" r="1.3"/>
<path d="M46.4 432.2 H50.8 V436.6 H50 V440.7 H47.2 V436.6 H46.4Z"/>
<rect x="67.9" y="432.6" width="6.9" height="1.7"/><rect x="67.9" y="436" width="6.9" height="1.7"/>
</g>
<text x="17.5" y="455.1" font-size="9.6" font-weight="bold" fill="#7a7a7a" textLength="68.6" lengthAdjust="spacingAndGlyphs">@StatistaCharts</text>
<text x="98" y="455.4" font-size="11.5" fill="#8c8c8c" textLength="62.7" lengthAdjust="spacingAndGlyphs">Source: CNN</text>
<text x="549.3" y="454" font-size="23.6" font-weight="bold" fill="#1b2230" stroke="#1b2230" stroke-width=".7" textLength="66.2" lengthAdjust="spacingAndGlyphs">statista</text>
<rect x="621" y="438" width="17.4" height="17.1" fill="#1b2230"/>
<path d="M621 449.4 C624 449.4 626.5 448.2 629.4 444 C632 440.3 634 438.3 638.4 438 L638.4 443.3 C635.5 443.5 634 445.3 631.5 448.8 C628.5 452.8 626 453.9 621 453.9Z" fill="#fbfbfb"/>
</svg>
</body></html>
